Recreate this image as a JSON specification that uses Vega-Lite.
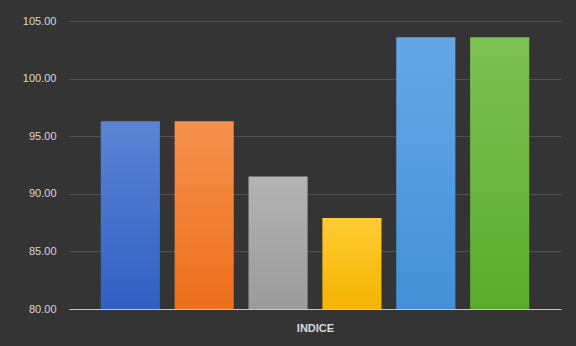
{
  "$schema": "https://vega.github.io/schema/vega-lite/v6.json",
  "autosize": "none",
  "width": 492,
  "height": 288,
  "padding": {"left": 69, "top": 21, "right": 15, "bottom": 37},
  "background": "#343434",
  "config": {
    "view": {"stroke": null},
    "font": "Liberation Sans"
  },
  "data": {
    "values": [
      {"serie": "1", "valor": 96.3},
      {"serie": "2", "valor": 96.3},
      {"serie": "3", "valor": 91.5},
      {"serie": "4", "valor": 87.9},
      {"serie": "5", "valor": 103.6},
      {"serie": "6", "valor": 103.6}
    ]
  },
  "encoding": {
    "x": {
      "field": "serie",
      "type": "nominal",
      "sort": ["1", "2", "3", "4", "5", "6"],
      "scale": {"domain": ["1", "2", "3", "4", "5", "6"], "paddingInner": 0.2, "paddingOuter": 0.43},
      "axis": {
        "title": "INDICE",
        "titleColor": "#d9d9d9",
        "titleFontSize": 11,
        "titleFontWeight": "bold",
        "titlePadding": 13,
        "labels": false,
        "ticks": false,
        "domainColor": "#c8c8c8",
        "domainWidth": 1
      }
    },
    "y": {
      "field": "valor",
      "type": "quantitative",
      "scale": {"domain": [80, 105], "nice": false, "zero": false},
      "axis": {
        "title": null,
        "values": [80, 85, 90, 95, 100, 105],
        "format": ".2f",
        "labelColor": "#d9d9d9",
        "labelFontSize": 11,
        "labelPadding": 13,
        "ticks": false,
        "domain": false,
        "gridColor": "#5c5c5c",
        "gridWidth": 0.8
      }
    },
    "y2": {"datum": 80}
  },
  "layer": [
    {"transform": [{"filter": "datum.serie == '1'"}], "mark": {"type": "bar", "color": {"gradient": "linear", "x1": 0, "y1": 0, "x2": 0, "y2": 1, "stops": [{"offset": 0, "color": "#5b84d4"}, {"offset": 1, "color": "#2f60c2"}]}}},
    {"transform": [{"filter": "datum.serie == '2'"}], "mark": {"type": "bar", "color": {"gradient": "linear", "x1": 0, "y1": 0, "x2": 0, "y2": 1, "stops": [{"offset": 0, "color": "#f5914c"}, {"offset": 1, "color": "#ee6f1c"}]}}},
    {"transform": [{"filter": "datum.serie == '3'"}], "mark": {"type": "bar", "color": {"gradient": "linear", "x1": 0, "y1": 0, "x2": 0, "y2": 1, "stops": [{"offset": 0, "color": "#b3b3b3"}, {"offset": 1, "color": "#9b9b9b"}]}}},
    {"transform": [{"filter": "datum.serie == '4'"}], "mark": {"type": "bar", "color": {"gradient": "linear", "x1": 0, "y1": 0, "x2": 0, "y2": 1, "stops": [{"offset": 0, "color": "#ffcc33"}, {"offset": 1, "color": "#f4b400"}]}}},
    {"transform": [{"filter": "datum.serie == '5'"}], "mark": {"type": "bar", "color": {"gradient": "linear", "x1": 0, "y1": 0, "x2": 0, "y2": 1, "stops": [{"offset": 0, "color": "#65a7e6"}, {"offset": 1, "color": "#4590d8"}]}}},
    {"transform": [{"filter": "datum.serie == '6'"}], "mark": {"type": "bar", "color": {"gradient": "linear", "x1": 0, "y1": 0, "x2": 0, "y2": 1, "stops": [{"offset": 0, "color": "#7dc153"}, {"offset": 1, "color": "#5aac2c"}]}}}
  ]
}
